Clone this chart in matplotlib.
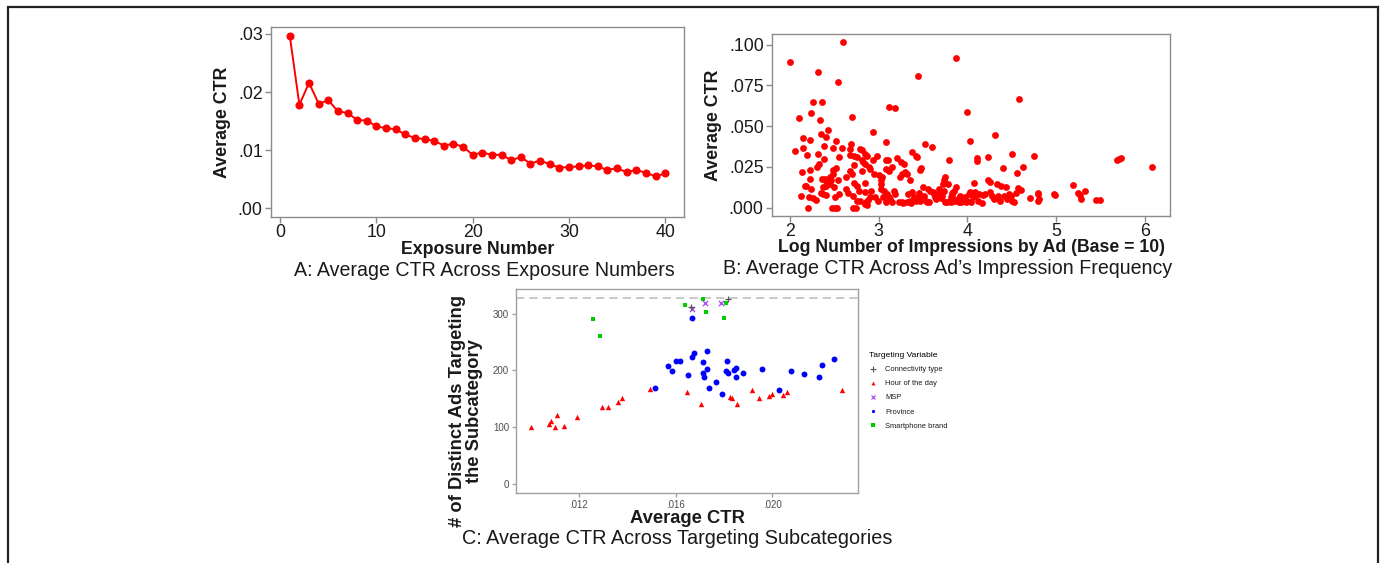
import matplotlib
matplotlib.use("Agg")
import matplotlib.pyplot as plt
from matplotlib.patches import Rectangle
from matplotlib.lines import Line2D

plt.rcParams['font.family'] = ['Liberation Sans', 'DejaVu Sans']

# ---------------- Panel A data ----------------
exposure = list(range(1, 41))
ctr_by_exposure = [0.0297, 0.0178, 0.0216, 0.0180, 0.0186, 0.0167, 0.0164, 0.0152, 0.0151, 0.0141,
                   0.0138, 0.0136, 0.0127, 0.0121, 0.0119, 0.0116, 0.0108, 0.0111, 0.0106, 0.0092,
                   0.0096, 0.0092, 0.0092, 0.0083, 0.0088, 0.0077, 0.0082, 0.0076, 0.0070, 0.0071,
                   0.0072, 0.0074, 0.0072, 0.0066, 0.0069, 0.0062, 0.0066, 0.0061, 0.0055, 0.0060]

# ---------------- Panel B data ----------------
log_impressions = [
    2.00, 2.06, 2.10, 2.12, 2.13, 2.14, 2.15, 2.17, 2.18, 2.19, 2.20, 2.21, 2.23, 2.23, 2.24, 2.23, 2.24,
    2.26, 2.26, 2.29, 2.31, 2.30, 2.32, 2.33, 2.35, 2.34, 2.36, 2.35, 2.36, 2.37, 2.37, 2.38, 2.38, 2.39,
    2.40, 2.40, 2.40, 2.40,
    2.43, 2.45, 2.45, 2.46, 2.47, 2.48, 2.48, 2.48, 2.49, 2.51, 2.51, 2.52, 2.52, 2.53, 2.54, 2.54, 2.55,
    2.55, 2.58, 2.60, 2.63, 2.63, 2.65, 2.67, 2.68, 2.68, 2.69, 2.70, 2.70, 2.71, 2.71, 2.72, 2.72, 2.72,
    2.74, 2.75, 2.75, 2.76,
    2.78, 2.79, 2.79, 2.81, 2.81, 2.81, 2.82, 2.84, 2.84, 2.85, 2.85, 2.85, 2.86, 2.87, 2.87, 2.88, 2.89,
    2.90, 2.90, 2.91, 2.93, 2.94, 2.95, 2.96, 2.98, 2.99, 3.00, 3.02, 3.02, 3.03, 3.04, 3.05, 3.06, 3.08,
    3.08, 3.08, 3.08, 3.09, 3.10, 3.11, 3.12, 3.12, 3.13, 3.15, 3.15, 3.17, 3.18, 3.18,
    3.20, 3.23, 3.24, 3.25, 3.26, 3.26, 3.27, 3.29, 3.30, 3.32, 3.32, 3.33, 3.35, 3.35, 3.36, 3.38, 3.38,
    3.40, 3.42, 3.42, 3.43, 3.44, 3.45, 3.46, 3.47, 3.47, 3.48, 3.50, 3.51, 3.52,
    3.53, 3.54, 3.56, 3.57, 3.58, 3.60, 3.61, 3.62, 3.63, 3.65, 3.66, 3.68, 3.69, 3.70, 3.71, 3.72, 3.73,
    3.74, 3.75, 3.75, 3.77, 3.78, 3.79, 3.80, 3.81, 3.82, 3.83, 3.83, 3.85, 3.86, 3.87, 3.87, 3.89,
    3.90, 3.92, 3.93, 3.95, 3.97, 3.98, 3.99, 4.00, 4.02, 4.03, 4.03, 4.04, 4.06, 4.07, 4.08, 4.09, 4.11,
    4.11, 4.12, 4.13, 4.16, 4.18, 4.20, 4.23, 4.23, 4.25, 4.25,
    4.28, 4.30, 4.31, 4.33, 4.34, 4.37, 4.38, 4.40, 4.41, 4.43, 4.45, 4.47, 4.49, 4.50, 4.50, 4.52, 4.55,
    4.56, 4.57, 4.58, 4.60, 4.63,
    4.71, 4.75, 4.80, 4.80, 4.81, 4.80, 4.98, 4.99, 5.19, 5.32, 5.25, 5.27, 5.28, 5.45, 5.50, 5.69, 5.71,
    5.73, 6.08]
ctr_by_ad = [
    0.0893, 0.0348, 0.0553, 0.0074, 0.0218, 0.0368, 0.0430, 0.0136, 0.0132, 0.0321, 0.0000, 0.0064, 0.0233,
    0.0414, 0.0580, 0.0175, 0.0115, 0.0650, 0.0058, 0.0049, 0.0835, 0.0249, 0.0331, 0.0270, 0.0451, 0.0541,
    0.0650, 0.0091, 0.0175, 0.0126, 0.0084, 0.0377, 0.0300, 0.0175, 0.0434, 0.0080, 0.0134, 0.0163,
    0.0475, 0.0187, 0.0144, 0.0167, 0.0000, 0.0368, 0.0204, 0.0233, 0.0126, 0.0066, 0.0000, 0.0241, 0.0412,
    0.0000, 0.0171, 0.0772, 0.0311, 0.0084, 0.0364, 0.1019, 0.0187, 0.0113, 0.0093, 0.0362, 0.0323, 0.0224,
    0.0391, 0.0558, 0.0208, 0.0074, 0.0000, 0.0319, 0.0261, 0.0154, 0.0000, 0.0136, 0.0311, 0.0043,
    0.0101, 0.0358, 0.0043, 0.0352, 0.0294, 0.0224, 0.0280, 0.0095, 0.0331, 0.0152, 0.0270, 0.0023, 0.0033,
    0.0016, 0.0317, 0.0047, 0.0249, 0.0239, 0.0064, 0.0105, 0.0465, 0.0290, 0.0208, 0.0064, 0.0315, 0.0043,
    0.0198, 0.0167, 0.0115, 0.0146, 0.0191, 0.0064, 0.0105, 0.0401, 0.0290, 0.0239, 0.0033, 0.0084, 0.0290,
    0.0228, 0.0064, 0.0617, 0.0053, 0.0249, 0.0033, 0.0105, 0.0611, 0.0084,
    0.0307, 0.0033, 0.0187, 0.0280, 0.0204, 0.0033, 0.0027, 0.0270, 0.0218, 0.0208, 0.0033, 0.0084, 0.0167,
    0.0043, 0.0027, 0.0342, 0.0095, 0.0064, 0.0315, 0.0043, 0.0309, 0.0811, 0.0088, 0.0064, 0.0233, 0.0043,
    0.0245, 0.0126, 0.0074, 0.0391,
    0.0043, 0.0033, 0.0115, 0.0033, 0.0105, 0.0370, 0.0095, 0.0084, 0.0068, 0.0051, 0.0084, 0.0115, 0.0105,
    0.0060, 0.0074, 0.0146, 0.0171, 0.0105, 0.0033, 0.0187, 0.0033, 0.0146, 0.0290, 0.0043, 0.0064, 0.0033,
    0.0088, 0.0074, 0.0105, 0.0043, 0.0918, 0.0126, 0.0053,
    0.0033, 0.0074, 0.0033, 0.0043, 0.0064, 0.0033, 0.0590, 0.0043, 0.0084, 0.0095, 0.0412, 0.0033, 0.0064,
    0.0150, 0.0074, 0.0095, 0.0302, 0.0286, 0.0043, 0.0084, 0.0027, 0.0080, 0.0084, 0.0309, 0.0167, 0.0156,
    0.0095,
    0.0074, 0.0053, 0.0449, 0.0146, 0.0070, 0.0043, 0.0132, 0.0243, 0.0074, 0.0130, 0.0053, 0.0084, 0.0070,
    0.0043, 0.0327, 0.0033, 0.0088, 0.0210, 0.0121, 0.0669, 0.0109, 0.0249,
    0.0058, 0.0315, 0.0093, 0.0082, 0.0051, 0.0039, 0.0082, 0.0076, 0.0140, 0.0101, 0.0088, 0.0076, 0.0053,
    0.0045, 0.0049, 0.0290, 0.0298, 0.0305, 0.0247]

# ---------------- Panel C data ----------------
hour_ctr = [0.01005, 0.01078, 0.01085, 0.01103, 0.01111, 0.01138, 0.01193, 0.01296, 0.01323, 0.01362,
            0.01377, 0.01496, 0.01648, 0.01704, 0.01826, 0.01833, 0.01855, 0.01918, 0.01944, 0.01985,
            0.02000, 0.02044, 0.02062, 0.02288]
hour_ads = [100, 106, 110, 100, 121, 101, 118, 135, 136, 144, 152, 167, 161, 140, 153, 152, 141, 165, 152,
            155, 158, 156, 162, 165]
province_ctr = [0.01670, 0.01517, 0.01568, 0.01584, 0.01603, 0.01618, 0.01652, 0.01670, 0.01678, 0.01715,
                0.01715, 0.01719, 0.01730, 0.01732, 0.01737, 0.01766, 0.01793, 0.01811, 0.01810, 0.01815,
                0.01840, 0.01851, 0.01852, 0.01880, 0.01956, 0.02029, 0.02077, 0.02132, 0.02192, 0.02204,
                0.02255]
province_ads = [292, 168, 207, 199, 217, 216, 192, 223, 230, 215, 196, 188, 234, 203, 168, 180, 159, 217,
                199, 195, 201, 204, 188, 196, 203, 165, 199, 194, 188, 210, 220]
brand_ctr = [0.01260, 0.01288, 0.01638, 0.01715, 0.01724, 0.01800, 0.01808]
brand_ads = [290, 261, 315, 325, 302, 293, 318]
msp_ctr = [0.01667, 0.01721, 0.01786]
msp_ads = [308, 318, 318]
conn_ctr = [0.01663, 0.01817]
conn_ads = [312, 326]
total_ads = 327

W, H = 1380, 563
fig = plt.figure(figsize=(W / 100, H / 100), dpi=100)

def fbox(l, t, r, b):
    return [l / W, 1 - b / H, (r - l) / W, (b - t) / H]

SPINE = '#8c8c8c'
TXT = '#1a1a1a'

def style(ax, lw=1.0, col=SPINE, tl=4, tc=TXT, fs=12.8, pad=2):
    for s in ax.spines.values():
        s.set_color(col)
        s.set_linewidth(lw)
    ax.tick_params(direction='out', length=tl, width=lw, color=col, labelcolor=tc, labelsize=fs, pad=pad)

# Panel A
axA = fig.add_axes(fbox(271, 27, 684, 217))
axA.plot(exposure, ctr_by_exposure, color='#ff0000', lw=1.4, marker='o', ms=4.8, mec='#ff0000', mfc='#ff0000')
axA.set_xlim(-0.95, 41.95)
axA.set_ylim(-0.0015, 0.0312)
axA.set_xticks([0, 10, 20, 30, 40])
axA.set_yticks([0, 0.01, 0.02, 0.03])
axA.set_yticklabels(['.00', '.01', '.02', '.03'])
style(axA)
axA.tick_params(axis='x', pad=1)
axA.set_xlabel('Exposure Number', fontsize=12.8, fontweight='bold', color=TXT, labelpad=0)
axA.set_ylabel('Average CTR', fontsize=12.8, fontweight='bold', color=TXT, labelpad=5)
fig.text(484 / W, 1 - 271 / H, 'A: Average CTR Across Exposure Numbers', ha='center', va='center',
         fontsize=14.1, color=TXT)

# Panel B
axB = fig.add_axes(fbox(772, 34, 1170, 216))
axB.scatter(log_impressions, ctr_by_ad, s=24, color='#ff0000', linewidths=0)
axB.set_xlim(1.796, 6.284)
axB.set_ylim(-0.0051, 0.1066)
axB.set_xticks([2, 3, 4, 5, 6])
axB.set_yticks([0, 0.025, 0.05, 0.075, 0.1])
axB.set_yticklabels(['.000', '.025', '.050', '.075', '.100'])
style(axB)
axB.tick_params(axis='x', pad=1)
axB.set_xlabel('Log Number of Impressions by Ad (Base = 10)', fontsize=12.7, fontweight='bold', color=TXT,
               labelpad=-1)
axB.set_ylabel('Average CTR', fontsize=12.8, fontweight='bold', color=TXT, labelpad=5)
fig.text(948 / W, 1 - 268 / H, 'B: Average CTR Across Ad\u2019s Impression Frequency', ha='center',
         va='center', fontsize=14.1, color=TXT)

# Panel C
axC = fig.add_axes(fbox(516, 289, 858, 493))
axC.axhline(total_ads, color='#c0c0c0', lw=1.2, ls=(0, (5, 3)), zorder=1)
axC.scatter(hour_ctr, hour_ads, marker='^', s=15, color='#ff0000', linewidths=0, zorder=3)
axC.scatter(province_ctr, province_ads, marker='o', s=18, color='#0000ff', linewidths=0, zorder=3)
axC.scatter(brand_ctr, brand_ads, marker='s', s=12, color='#00cc00', linewidths=0, zorder=3)
axC.scatter(msp_ctr, msp_ads, marker='x', s=14, color='#a040f0', linewidths=0.9, zorder=4)
axC.scatter(conn_ctr, conn_ads, marker='+', s=22, color='#555555', linewidths=0.9, zorder=4)
axC.set_xlim(0.00941, 0.02354)
axC.set_ylim(-16.4, 343.4)
axC.set_xticks([0.012, 0.016, 0.020])
axC.set_xticklabels(['.012', '.016', '.020'])
axC.set_yticks([0, 100, 200, 300])
style(axC, lw=1.0, col='#a0a0a0', tl=3, tc='#4d4d4d', fs=7)
axC.set_xlabel('Average CTR', fontsize=13.2, fontweight='bold', color=TXT, labelpad=0)
fig.text(466 / W, 1 - 411 / H, '# of Distinct Ads Targeting\nthe Subcategory', rotation=90, ha='center',
         va='center', fontsize=13.2, fontweight='bold', color=TXT, linespacing=1.0)
fig.text(677 / W, 1 - 539 / H, 'C: Average CTR Across Targeting Subcategories', ha='center', va='center',
         fontsize=14.3, color=TXT)

handles = [
    Line2D([], [], ls='', marker='+', ms=4, color='#555555', mew=0.8),
    Line2D([], [], ls='', marker='^', ms=2.8, color='#ff0000', mew=0),
    Line2D([], [], ls='', marker='x', ms=3, color='#a040f0', mew=0.8),
    Line2D([], [], ls='', marker='o', ms=2.3, color='#0000ff', mew=0),
    Line2D([], [], ls='', marker='s', ms=2.3, color='#00cc00', mew=0),
]
labels = ['Connectivity type', 'Hour of the day', 'MSP', 'Province', 'Smartphone brand']
leg = fig.legend(handles, labels, loc='upper left', bbox_to_anchor=(869 / W, 1 - 352 / H), frameon=False,
                 title='Targeting Variable', title_fontsize=6.1, fontsize=5.4, labelspacing=0.92,
                 handlelength=1.2, handletextpad=1.0, borderpad=0, borderaxespad=0, alignment='left')
for t in leg.get_texts():
    t.set_color('#1a1a1a')

# Outer frame
fig.patches.append(Rectangle((8 / W, -0.05), (1378 - 8) / W, 1.05 - 7 / H, transform=fig.transFigure,
                             fill=False, ec='#222222', lw=1.6, clip_on=False))

fig.savefig('out.png', dpi=100)
